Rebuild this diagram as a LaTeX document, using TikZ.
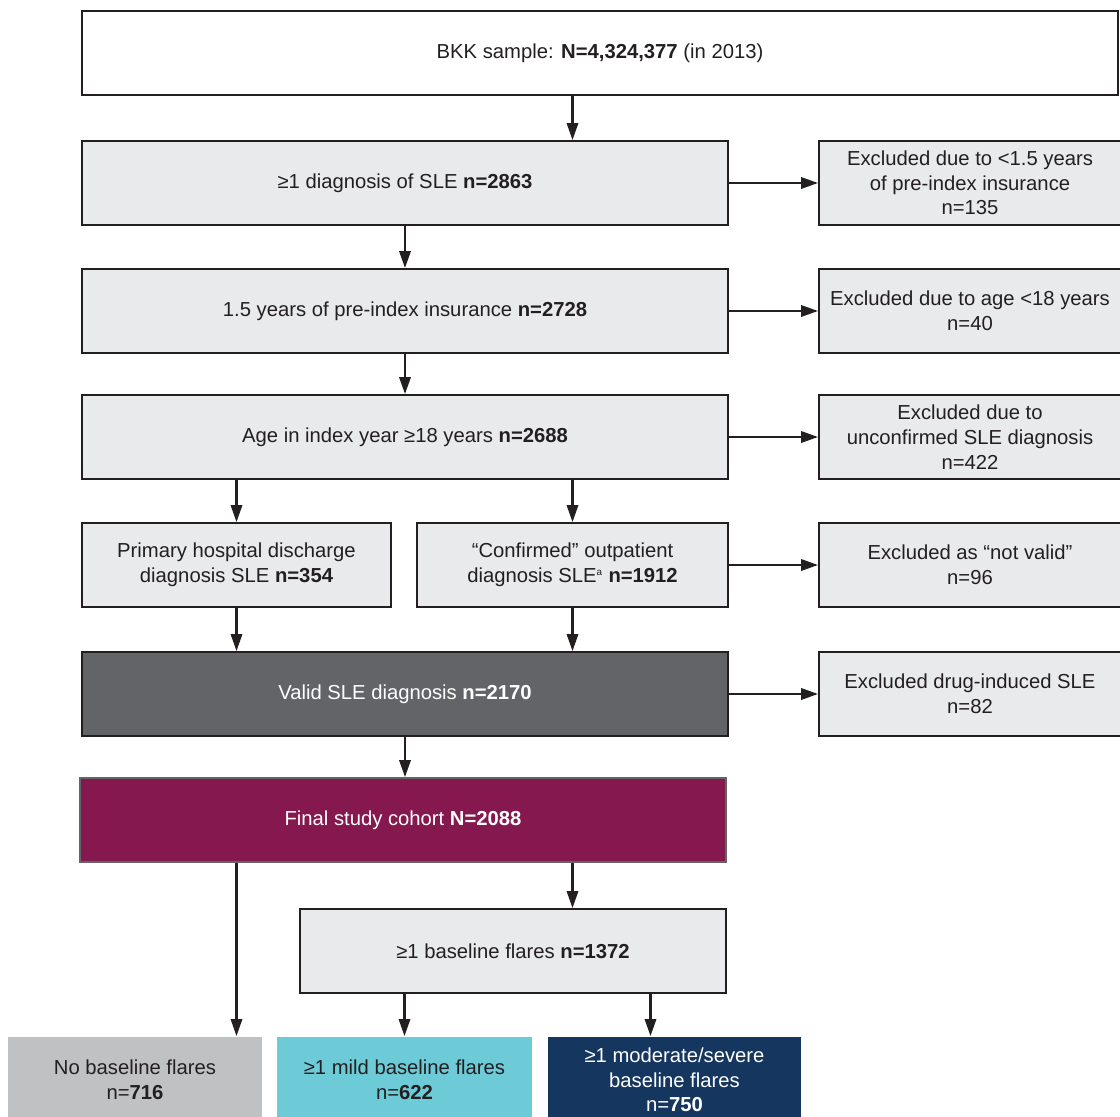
\documentclass[tikz,border=0pt]{standalone}
\usepackage{fontspec}
\setmainfont{Liberation Sans}
\usepackage{tikz}
\usetikzlibrary{arrows.meta}
\usetikzlibrary{positioning}

\definecolor{edgeblack}{HTML}{231F20}
\definecolor{boxgray}{HTML}{E9EAEC}
\definecolor{validgray}{HTML}{636467}
\definecolor{cohortpurple}{HTML}{84184F}
\definecolor{nogray}{HTML}{C0C1C3}
\definecolor{mildcyan}{HTML}{6DCBD8}
\definecolor{sevnavy}{HTML}{15365F}

\tikzset{
	flow/.style={draw=edgeblack, line width=1.3pt, fill=boxgray, text=edgeblack, align=center,
		inner sep=2pt, font=\fontsize{14.4}{17.6}\selectfont},
	leaf/.style={flow, draw=none, minimum height=86*\px},
	arr/.style={line width=1.6pt, draw=edgeblack, -{Triangle[length=12pt,width=8pt]}},
}

\begin{document}
\begin{tikzpicture}[x=0.025cm,y=-0.025cm]
		\def\px{0.025cm}
		\def\wl{646*\px}% main column
		\def\wr{302*\px}% exclusions
		\def\h{84*\px}
		\clip (0,0) rectangle (1120,1117);
		\fill[white] (0,0) rectangle (1120,1117);
		% main column
		\node[flow, fill=white, minimum width=1036*\px, minimum height=\h] (bkk) at (600,53)
			{BKK sample: \textbf{N=4,324,377} (in 2013)};
		\node[flow, minimum width=\wl, minimum height=\h] (diag) at (405,183)
			{≥1 diagnosis of SLE \textbf{n=2863}};
		\node[flow, minimum width=\wl, minimum height=\h] (ins) at (405,311)
			{1.5 years of pre-index insurance \textbf{n=2728}};
		\node[flow, minimum width=\wl, minimum height=\h] (age) at (405,437)
			{Age in index year ≥18 years \textbf{n=2688}};
		\node[flow, minimum width=309*\px, minimum height=\h] (hosp) at (236.5,565)
			{Primary hospital discharge\\diagnosis SLE \textbf{n=354}};
		\node[flow, minimum width=311*\px, minimum height=\h] (conf) at (572.5,565)
			{“Confirmed” outpatient\\diagnosis SLE\textsuperscript{\scriptsize a} \textbf{n=1912}};
		\node[flow, fill=validgray, text=white, minimum width=\wl, minimum height=\h] (valid) at (405,694)
			{Valid SLE diagnosis \textbf{n=2170}};
		\node[flow, draw=validgray, fill=cohortpurple, text=white, minimum width=\wl, minimum height=\h] (final) at (403,820)
			{Final study cohort \textbf{N=2088}};
		\node[flow, minimum width=426*\px, minimum height=\h] (base) at (513,951)
			{≥1 baseline flares \textbf{n=1372}};
		% flare groups
		\node[leaf, fill=nogray, minimum width=254*\px] (noflare) at (135,1080)
			{No baseline flares\\n=\textbf{716}};
		\node[leaf, fill=mildcyan, minimum width=255*\px] (mild) at (404.5,1080)
			{≥1 mild baseline flares\\n=\textbf{622}};
		\node[leaf, fill=sevnavy, text=white, minimum width=253*\px] (modsev) at (674.5,1080)
			{≥1 moderate/severe\\baseline flares\\n=\textbf{750}};
		% exclusions
		\node[flow, minimum width=\wr, minimum height=\h] (exins) at (970,183)
			{Excluded due to <1.5 years\\of pre-index insurance\\n=135};
		\node[flow, minimum width=\wr, minimum height=\h] (exage) at (970,311)
			{Excluded due to age <18 years\\n=40};
		\node[flow, minimum width=\wr, minimum height=\h] (exconf) at (970,437)
			{Excluded due to\\unconfirmed SLE diagnosis\\n=422};
		\node[flow, minimum width=\wr, minimum height=\h] (exvalid) at (970,565)
			{Excluded as “not valid”\\n=96};
		\node[flow, minimum width=\wr, minimum height=\h] (exdrug) at (970,694)
			{Excluded drug-induced SLE\\n=82};
		% connections down
		\draw[arr] (bkk.south -| conf) -- (diag.north -| conf);
		\draw[arr] (diag.south) -- (ins.north);
		\draw[arr] (ins.south) -- (age.north);
		\draw[arr] (age.south -| hosp) -- (hosp.north);
		\draw[arr] (age.south -| conf) -- (conf.north);
		\draw[arr] (hosp.south) -- (valid.north -| hosp);
		\draw[arr] (conf.south) -- (valid.north -| conf);
		\draw[arr] (valid.south) -- (final.north -| valid);
		\draw[arr] (final.south -| conf) -- (base.north -| conf);
		\draw[arr] (final.south -| hosp) -- (noflare.north -| hosp);
		\draw[arr] (base.south -| mild) -- (mild.north);
		\draw[arr] ([xshift=-24*\px]modsev.north |- base.south) -- ([xshift=-24*\px]modsev.north);
		% connections right
		\draw[arr] (diag.east) -- (exins.west);
		\draw[arr] (ins.east) -- (exage.west);
		\draw[arr] (age.east) -- (exconf.west);
		\draw[arr] (conf.east) -- (exvalid.west);
		\draw[arr] (valid.east) -- (exdrug.west);
	\end{tikzpicture}
\end{document}
